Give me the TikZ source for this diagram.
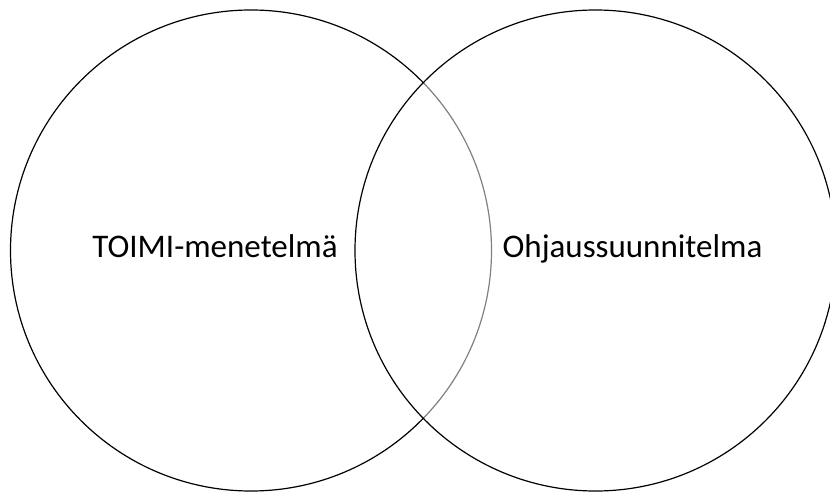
\documentclass[tikz,border=0pt]{standalone}
\usepackage{fontspec}
\setmainfont{Carlito}
\begin{document}
\begin{tikzpicture}[x=1pt,y=-1pt,
  set/.style={circle, draw=black, line width=1.2pt, minimum size=481pt, inner sep=0pt},
  lbl/.style={anchor=base, inner sep=0pt, font=\fontsize{33}{39}\selectfont}]
\useasboundingbox (0,0) rectangle (830,492);
\clip (0,0) rectangle (830,492);
\fill[white] (0,0) rectangle (830,492);
\node[set] (left) at (251,250.5) {};
\node[set, fill=white, fill opacity=0.5] (right) at (595.5,250.5) {};
\node[lbl] (lt) at (215,257) {TOIMI-menetelmä};
\node[lbl] (rt) at (632.5,257) {Ohjaussuunnitelma};
\end{tikzpicture}
\end{document}
